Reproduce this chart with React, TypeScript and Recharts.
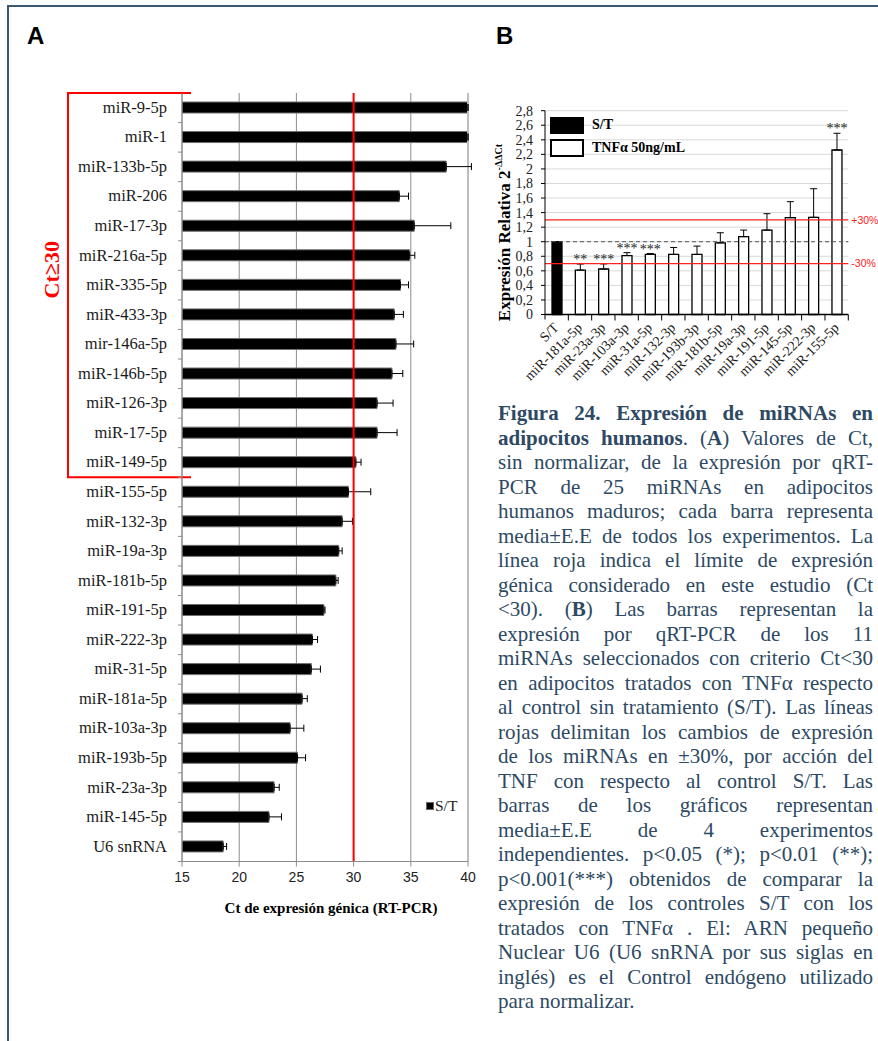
import React from 'react';
import {
  BarChart,
  Bar,
  XAxis,
  YAxis,
  CartesianGrid,
  ReferenceLine,
  ReferenceArea,
  ErrorBar,
  Legend,
  LabelList,
  Cell,
} from 'recharts';

const SERIF = '"Liberation Serif", "Times New Roman", serif';
const SANS = '"Liberation Sans", Arial, sans-serif';

// ---- Panel A: raw Ct values (mean, +SE) ----
const mirnasA = [
  'miR-9-5p', 'miR-1', 'miR-133b-5p', 'miR-206', 'miR-17-3p', 'miR-216a-5p',
  'miR-335-5p', 'miR-433-3p', 'mir-146a-5p', 'miR-146b-5p', 'miR-126-3p',
  'miR-17-5p', 'miR-149-5p', 'miR-155-5p', 'miR-132-3p', 'miR-19a-3p',
  'miR-181b-5p', 'miR-191-5p', 'miR-222-3p', 'miR-31-5p', 'miR-181a-5p',
  'miR-103a-3p', 'miR-193b-5p', 'miR-23a-3p', 'miR-145-5p', 'U6 snRNA',
];
const ctMean = [
  40, 40, 38.1, 34.0, 35.3, 34.9, 34.1, 33.55, 33.7, 33.35, 32.05, 32.05, 30.2,
  29.55, 29.0, 28.7, 28.45, 27.4, 26.4, 26.3, 25.5, 24.45, 25.1, 23.05, 22.6, 18.6,
];
const ctSE = [
  0, 0, 2.2, 0.8, 3.2, 0.45, 0.7, 0.8, 1.55, 0.95, 1.4, 1.75, 0.45,
  1.95, 0.9, 0.3, 0.2, 0.1, 0.45, 0.8, 0.45, 1.2, 0.7, 0.45, 1.1, 0.3,
];
const ctTicks = [15, 20, 25, 30, 35, 40];
const ctCutoff = 30;
const ctGroup = ['miR-9-5p', 'miR-149-5p'];
const ctGroupLabel = 'Ct≥30';
const ctAxisTitle = 'Ct de expresión génica (RT-PCR)';
const legendA = ['S/T'];

// ---- Panel B: relative expression 2^-ΔΔCt ----
const mirnasB = [
  'S/T', 'miR-181a-5p', 'miR-23a-3p', 'miR-103a-3p', 'miR-31a-5p', 'miR-132-3p',
  'miR-193b-3p', 'miR-181b-5p', 'miR-19a-3p', 'miR-191-5p', 'miR-145-5p',
  'miR-222-3p', 'miR-155-5p',
];
const relExpr = [1.0, 0.61, 0.625, 0.81, 0.825, 0.825, 0.825, 0.985, 1.07, 1.16, 1.33, 1.335, 2.26];
const relSE = [0, 0.083, 0.07, 0.04, 0.013, 0.096, 0.115, 0.138, 0.09, 0.225, 0.22, 0.393, 0.23];
const relStars = ['', '**', '***', '***', '***', '', '', '', '', '', '', '', '***'];
const relTicks = [0, 0.2, 0.4, 0.6, 0.8, 1, 1.2, 1.4, 1.6, 1.8, 2, 2.2, 2.4, 2.6, 2.8];
const relBase = 1;
const relUp = 1.3;
const relDown = 0.7;
const legendB = ['S/T', 'TNFα 50ng/mL'];

const captionLines: Array<Array<[string, boolean]>> = [
  [['Figura 24. Expresión de miRNAs en', true]],
  [['adipocitos humanos', true], ['. (', false], ['A', true], [') Valores de Ct,', false]],
  [['sin normalizar, de la expresión por qRT-', false]],
  [['PCR de 25 miRNAs en adipocitos', false]],
  [['humanos maduros; cada barra representa', false]],
  [['media±E.E de todos los experimentos. La', false]],
  [['línea roja indica el límite de expresión', false]],
  [['génica considerado en este estudio (Ct', false]],
  [['<30). (', false], ['B', true], [') Las barras representan la', false]],
  [['expresión por qRT-PCR de los 11', false]],
  [['miRNAs seleccionados con criterio Ct<30', false]],
  [['en adipocitos tratados con TNFα respecto', false]],
  [['al control sin tratamiento (S/T). Las líneas', false]],
  [['rojas delimitan los cambios de expresión', false]],
  [['de los miRNAs en ±30%, por acción del', false]],
  [['TNF con respecto al control S/T. Las', false]],
  [['barras de los gráficos representan', false]],
  [['media±E.E de 4 experimentos', false]],
  [['independientes. p<0.05 (*); p<0.01 (**);', false]],
  [['p<0.001(***) obtenidos de comparar la', false]],
  [['expresión de los controles S/T con los', false]],
  [['tratados con TNFα . El: ARN pequeño', false]],
  [['Nuclear U6 (U6 snRNA por sus siglas en', false]],
  [['inglés) es el Control endógeno utilizado', false]],
  [['para normalizar.', false]],
];

const dataA = mirnasA.map((name, i) => ({ name, ct: ctMean[i], se: [0, ctSE[i]] }));
const dataB = mirnasB.map((name, i) => ({ name, expr: relExpr[i], se: [0, relSE[i]], stars: relStars[i] }));

// layout
const A_W = 480, A_H = 930, A_XH = 54, A_YW = 182;
const A_M = { top: 93, right: 12, bottom: 14.5, left: 0 };
const bandA = (A_H - A_M.top - A_M.bottom - A_XH) / mirnasA.length;

const B_W = 388, B_H = 320, B_XH = 80, B_YW = 55;
const B_M = { top: 20.7, right: 29.7, bottom: 15.5, left: 0 };
const bandB = (B_W - B_YW - B_M.left - B_M.right) / mirnasB.length;

const fmtComma = (v: number) => (Number.isInteger(v) ? String(v) : v.toFixed(1).replace('.', ','));

const TickA = (props: any) => {
  const { x, y, payload } = props;
  return (
    <g>
      <text x={x} y={y} dy={5} textAnchor="end" fontFamily={SERIF} fontSize={16.5} fill="#1a1a1a">
        {payload.value}
      </text>
      <line x1={x + 11} x2={x + 15} y1={y + bandA / 2} y2={y + bandA / 2} stroke="#8c8c8c" />
    </g>
  );
};

const TickB = (props: any) => {
  const { x, y, payload, index } = props;
  const tx = x + 3;
  const ty = y + 4;
  return (
    <g>
      {index === 0 && <line x1={x - bandB / 2} x2={x - bandB / 2} y1={y - 10} y2={y - 5} stroke="#000" />}
      <line x1={x + bandB / 2} x2={x + bandB / 2} y1={y - 10} y2={y - 4} stroke="#000" />
      <text x={tx} y={ty} transform={`rotate(-45 ${tx} ${ty})`} textAnchor="end" fontFamily={SERIF} fontSize={14} fill="#1a1a1a">
        {payload.value}
      </text>
    </g>
  );
};

const Bracket = (props: any) => {
  const { y, height } = props;
  const cy = y + height * 0.46;
  return (
    <g>
      <path d={`M191 ${y} L68 ${y} L68 ${y + height} L191 ${y + height}`} fill="none" stroke="#ff0000" strokeWidth={2} />
      <text x={52} y={cy} transform={`rotate(-90 52 ${cy})`} textAnchor="middle" dominantBaseline="central"
        fontFamily={SERIF} fontWeight="bold" fontSize={22} fill="#ff0000">
        {ctGroupLabel}
      </text>
    </g>
  );
};

const AxisTitleA = (props: any) => {
  const vb = props.viewBox;
  return (
    <text x={vb.x + vb.width / 2 + 6} y={vb.y + 51} textAnchor="middle" fontFamily={SERIF} fontWeight="bold" fontSize={15} fill="#000">
      {ctAxisTitle}
    </text>
  );
};

const AxisTitleB = (props: any) => {
  const vb = props.viewBox;
  const cx = vb.x + 15;
  const cy = vb.y + vb.height / 2 + 20;
  return (
    <text x={cx} y={cy} transform={`rotate(-90 ${cx} ${cy})`} textAnchor="middle" dominantBaseline="central"
      fontFamily={SERIF} fontWeight="bold" fontSize={17} fill="#000">
      Expresión Relativa 2<tspan dy={-7} fontSize={10}>-ΔΔCt</tspan>
    </text>
  );
};

const Stars = (props: any) => {
  const vb = props.viewBox || props;
  const { x, y, width, height } = vb;
  const { value, index } = props;
  if (!value) return null;
  const pxPerUnit = height / relExpr[index];
  const top = y - relSE[index] * pxPerUnit;
  return (
    <text x={x + width / 2} y={top} textAnchor="middle" fontFamily={SERIF} fontSize={14} fill="#222">
      {value}
    </text>
  );
};

const LegendA = () => (
  <div style={{ display: 'flex', alignItems: 'center', fontFamily: SERIF, fontSize: 15.5, color: '#1a1a1a' }}>
    <span style={{ width: 8, height: 8, background: '#000', border: '1px solid #666', boxSizing: 'border-box', marginRight: 1 }} />
    {legendA[0]}
  </div>
);

const LegendB = () => (
  <div style={{ fontFamily: SERIF, fontWeight: 'bold', fontSize: 14, color: '#000' }}>
    {legendB.map((name, i) => (
      <div key={name} style={{ display: 'flex', alignItems: 'center', height: 17.5, marginBottom: 5 }}>
        <span style={{
          width: 34, height: 17.5, boxSizing: 'border-box', marginRight: 8,
          background: i === 0 ? '#000' : '#fff', border: '2px solid #000',
        }} />
        {name}
      </div>
    ))}
  </div>
);

const PanelA = () => (
  <BarChart width={A_W} height={A_H} data={dataA} layout="vertical" margin={A_M} barCategoryGap={0}>
    <CartesianGrid horizontal={false} stroke="#8c8c8c" />
    <XAxis
      type="number"
      domain={[15, 40]}
      ticks={ctTicks}
      interval={0}
      allowDataOverflow
      height={A_XH}
      tickSize={5}
      tickMargin={6}
      axisLine={{ stroke: '#8c8c8c' }}
      tickLine={{ stroke: '#8c8c8c' }}
      tick={{ fontFamily: SANS, fontSize: 14, fill: '#222' }}
      label={<AxisTitleA />}
    />
    <YAxis
      type="category"
      dataKey="name"
      width={A_YW}
      interval={0}
      tickSize={4}
      tickMargin={11}
      tickLine={false}
      axisLine={{ stroke: '#8c8c8c' }}
      tick={(p: any) => <TickA {...p} />}
    />
    <ReferenceLine x={40} stroke="#bdbdbd" strokeWidth={2} />
    <ReferenceArea y1={ctGroup[0]} y2={ctGroup[1]} ifOverflow="visible" shape={(p: any) => <Bracket {...p} />} />
    <Bar dataKey="ct" fill="#000" stroke="#707070" strokeWidth={1} barSize={11} isAnimationActive={false}>
      <ErrorBar dataKey="se" direction="x" width={3.5} stroke="#000" strokeWidth={1} />
    </Bar>
    <ReferenceLine x={ctCutoff} stroke="#ff0000" strokeWidth={2} />
    <Legend verticalAlign="middle" align="center" content={<LegendA />} wrapperStyle={{ left: 426, top: 797, width: 60 }} />
  </BarChart>
);

const PanelB = () => (
  <BarChart width={B_W} height={B_H} data={dataB} margin={B_M} barCategoryGap={0}>
    <CartesianGrid vertical={false} stroke="#d9d9d9" />
    <XAxis
      dataKey="name"
      interval={0}
      height={B_XH}
      tickSize={5}
      tickMargin={5}
      tickLine={false}
      axisLine={{ stroke: '#000', strokeWidth: 1.5 }}
      tick={(p: any) => <TickB {...p} />}
    />
    <YAxis
      domain={[0, 2.8]}
      ticks={relTicks}
      interval={0}
      width={B_YW}
      tickSize={4}
      tickMargin={8}
      tickFormatter={fmtComma}
      axisLine={{ stroke: '#000' }}
      tickLine={{ stroke: '#000' }}
      tick={{ fontFamily: SERIF, fontSize: 14, fill: '#222' }}
      label={<AxisTitleB />}
    />
    <Bar dataKey="expr" barSize={10} stroke="#000" strokeWidth={1.3} isAnimationActive={false}>
      {dataB.map((d, i) => (
        <Cell key={d.name} fill={i === 0 ? '#000' : '#fff'} />
      ))}
      <ErrorBar dataKey="se" direction="y" width={3.5} stroke="#000" strokeWidth={1} />
      <LabelList dataKey="stars" content={(p: any) => <Stars {...p} />} />
    </Bar>
    <ReferenceLine y={relBase} stroke="#555" strokeDasharray="4 3" />
    <ReferenceLine y={relUp} stroke="#ff2020" strokeWidth={1.3}
      label={{ value: '+30%', position: 'right', offset: 3, fill: '#ff2020', fontSize: 10.5, fontFamily: SANS }} />
    <ReferenceLine y={relDown} stroke="#ff2020" strokeWidth={1.3}
      label={{ value: '-30%', position: 'right', offset: 3, fill: '#ff2020', fontSize: 10.5, fontFamily: SANS }} />
    <Legend verticalAlign="middle" align="center" content={<LegendB />} wrapperStyle={{ left: 60, top: 26.5, width: 140 }} />
  </BarChart>
);

export default function App() {
  return (
    <div style={{ position: 'absolute', left: 0, top: 0, width: 878, height: 1041, background: '#fff', overflow: 'hidden' }}>
      <div style={{
        position: 'absolute', left: 7, top: 5, width: 871, height: 1036,
        borderTop: '2px solid #3b5870', borderLeft: '2px solid #3b5870', boxSizing: 'border-box',
      }} />
      <div style={{ position: 'absolute', left: 27, top: 24, fontFamily: SANS, fontWeight: 'bold', fontSize: 24, lineHeight: '24px' }}>A</div>
      <div style={{ position: 'absolute', left: 496, top: 24, fontFamily: SANS, fontWeight: 'bold', fontSize: 24, lineHeight: '24px' }}>B</div>

      <div style={{ position: 'absolute', left: 0, top: 0 }}>
        <PanelA />
      </div>
      <div style={{ position: 'absolute', left: 490, top: 90 }}>
        <PanelB />
      </div>

      <div style={{
        position: 'absolute', left: 498, top: 401, width: 375,
        fontFamily: SERIF, fontSize: 21, lineHeight: '24.5px', color: '#2d4963',
      }}>
        {captionLines.map((parts, i) => (
          <div key={i} style={{
            textAlign: 'justify',
            textAlignLast: i === captionLines.length - 1 ? 'left' : 'justify',
            whiteSpace: 'nowrap',
          }}>
            {parts.map(([t, b], j) => (
              <span key={j} style={{ fontWeight: b ? 'bold' : 'normal' }}>{t}</span>
            ))}
          </div>
        ))}
      </div>
    </div>
  );
}
